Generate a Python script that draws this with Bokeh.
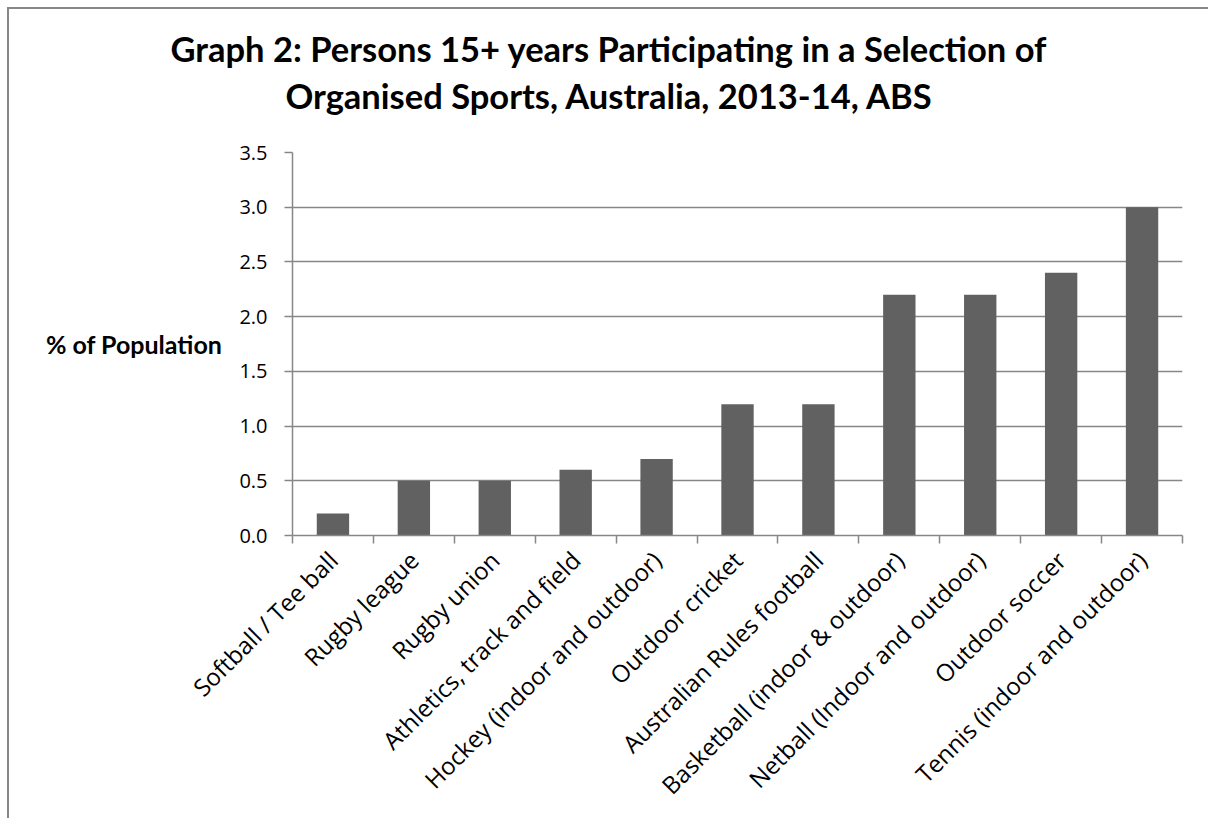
import math
from bokeh.plotting import figure
from bokeh.layouts import column
from bokeh.models import ColumnDataSource, Range1d, FixedTicker, Div, PrintfTickFormatter
from bokeh.embed import file_html
from bokeh.resources import INLINE

# ---- data ----
categories = [
    "Softball / Tee ball",
    "Rugby league",
    "Rugby union",
    "Athletics, track and field",
    "Hockey (indoor and outdoor)",
    "Outdoor cricket",
    "Australian Rules football",
    "Basketball (indoor & outdoor)",
    "Netball (Indoor and outdoor)",
    "Outdoor soccer",
    "Tennis (indoor and outdoor)",
]
values = [0.2, 0.5, 0.5, 0.6, 0.7, 1.2, 1.2, 2.2, 2.2, 2.4, 3.0]
y_ticks = [0.0, 0.5, 1.0, 1.5, 2.0, 2.5, 3.0, 3.5]
title_lines = [
    "Graph 2: Persons 15+ years Participating in a Selection of",
    "Organised Sports, Australia, 2013-14, ABS",
]
y_label = "% of Population"

# ---- layout constants ----
W = 1199
TITLE_H = 121
H = 688
ML, MR, MT, MB = 283, 26, 22, 283
YMAX = 3.5
N = len(categories)

GRID = "#878787"
BAR = "#616161"
FONT = "Open Sans"
TFONT = "Lato"

centers = [i + 0.5 for i in range(N)]
bounds = [float(i) for i in range(N + 1)]

src = ColumnDataSource(dict(x=centers, top=values, name=categories))

title_html = (
    f'<div style="width:{W}px;text-align:center;font-family:{TFONT};font-weight:bold;'
    f'font-size:34.5px;line-height:47px;padding-top:16px;color:#000;white-space:nowrap;margin:0">'
    + "<br>".join(title_lines) + "</div>"
)
title_div = Div(text=title_html, width=W, height=TITLE_H, margin=(0, 0, 0, 0))

p = figure(width=W, height=H, x_range=Range1d(0, N), y_range=Range1d(0, YMAX),
           output_backend="svg", toolbar_location=None, margin=(0, 0, 0, 0),
           min_border_left=ML, min_border_right=MR, min_border_top=MT, min_border_bottom=MB)
p.outline_line_color = None
p.background_fill_color = "white"
p.border_fill_color = "white"

p.vbar(x="x", top="top", width=0.4, source=src, fill_color=BAR, line_color=None)

# y axis
yax = p.yaxis[0]
yax.ticker = FixedTicker(ticks=y_ticks, minor_ticks=[])
yax.formatter = PrintfTickFormatter(format="%.1f")
yax.axis_line_color = GRID
yax.axis_line_width = 1.5
yax.major_tick_line_color = GRID
yax.major_tick_line_width = 1.5
yax.major_tick_out = 8
yax.major_tick_in = 0
yax.minor_tick_line_color = None
yax.major_label_standoff = 17
yax.major_label_text_font = FONT
yax.major_label_text_font_size = "20px"
yax.major_label_text_color = "black"
yax.axis_label = y_label
yax.axis_label_text_font = TFONT
yax.axis_label_text_font_style = "bold"
yax.axis_label_text_font_size = "25px"
yax.axis_label_text_color = "black"
yax.axis_label_standoff = 14
if "axis_label_orientation" in yax.properties():
    yax.axis_label_orientation = "horizontal"

p.ygrid.ticker = FixedTicker(ticks=y_ticks)
p.ygrid.grid_line_color = GRID
p.ygrid.grid_line_width = 1.5
p.xgrid.grid_line_color = None

# x axis: labels at centres, tick marks at boundaries
xax = p.xaxis[0]
xax.ticker = FixedTicker(ticks=centers, minor_ticks=bounds)
xax.major_label_overrides = {c: n for c, n in zip(centers, categories)}
xax.major_tick_line_color = None
xax.major_tick_out = 8
xax.major_tick_in = 0
xax.minor_tick_line_color = GRID
xax.minor_tick_line_width = 1.5
xax.minor_tick_out = 8
xax.minor_tick_in = 0
xax.axis_line_color = GRID
xax.axis_line_width = 1.5
xax.major_label_orientation = math.pi / 4
xax.major_label_standoff = 12
xax.major_label_text_font = FONT
xax.major_label_text_font_size = "24px"
xax.major_label_text_color = "black"

layout = column(title_div, p, spacing=0)
layout.styles = {"margin-left": "7px", "margin-top": "7px",
                 "border-left": f"2px solid {GRID}", "border-top": f"2px solid {GRID}"}

html = file_html(layout, INLINE)
html = html.replace("</head>",
                    "<style>html,body{margin:0;padding:0;overflow:hidden;}</style></head>", 1)
open("out.html", "w").write(html)
